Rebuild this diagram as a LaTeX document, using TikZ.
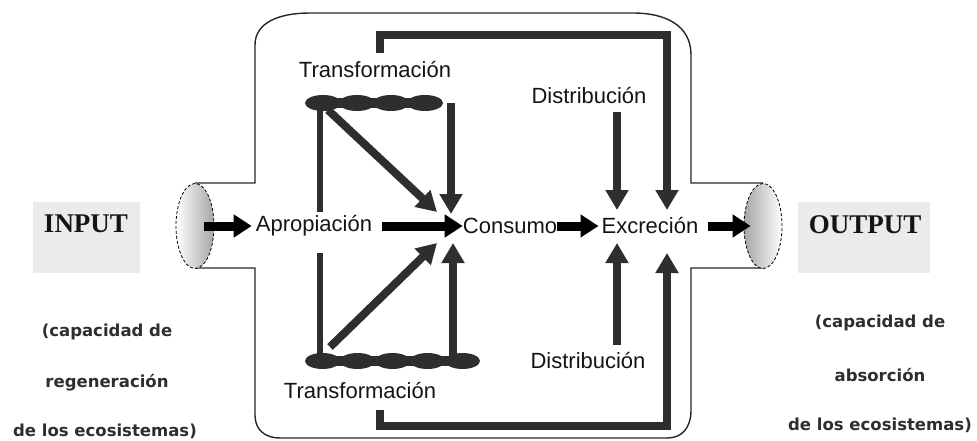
\documentclass[tikz,border=0pt]{standalone}
\usepackage{fontspec}
\setmainfont{Liberation Sans}
\newfontfamily\serifb{Liberation Serif}
\newfontfamily\smallf{DejaVu Sans}
\usetikzlibrary{arrows.meta,shapes.geometric}
\definecolor{dk}{HTML}{2E2E2E}
\definecolor{boxgray}{HTML}{EBEBEB}
\tikzset{
  lbl/.style={inner sep=1pt, text=black!92, font=\fontsize{22}{24}\selectfont},
  iolbl/.style={inner sep=0pt, text=black!92, font=\serifb\bfseries\fontsize{27}{29}\selectfont},
  small/.style={inner sep=0pt, text=black!82, font=\smallf\bfseries\fontsize{16.5}{18}\selectfont},
  iobox/.style={fill=boxgray, draw=none, inner sep=0pt},
  pipeend/.style={ellipse, draw=black, densely dashed, line width=0.8pt, minimum width=38pt, minimum height=85pt, inner sep=0pt},
  outer/.style={line width=1.4pt, draw=black!85},
  harr/.style={line width=9pt, black, -{Triangle[length=18pt,width=22pt]}},
  varr/.style={line width=8pt, dk, -{Triangle[length=20pt,width=22pt]}},
  darr/.style={line width=8pt, dk, -{Triangle[length=20pt,width=22pt]}},
  thk/.style={line width=6pt, dk},
  brk/.style={line width=8pt, dk, -{Triangle[length=20pt,width=22pt]}},
}
\begin{document}
\begin{tikzpicture}[x=1pt,y=-1pt]
\useasboundingbox (0,0) rectangle (977,441);
% outer frame with pipes
\draw[outer] (195,183) -- (255,183) -- (255,45) .. controls (255,22) and (280,13) .. (310,13) -- (633,13) .. controls (665,13) and (691,25) .. (691,55) -- (691,183) -- (763,183);
\draw[outer] (763,268) -- (691,268) -- (691,410) .. controls (691,428) and (682,438) .. (667,438) -- (280,438) .. controls (265,438) and (255,430) .. (255,415) -- (255,268) -- (195,268);
% pipe ends
\node[pipeend, left color=white, right color=gray!70] (inE) at (195,226) {};
\node[pipeend, left color=gray!70, right color=white] (outE) at (763,226) {};
% input / output boxes
\node[iobox, minimum width=107pt, minimum height=71pt] (inBox) at (86.5,237.5) {};
\node[iolbl] (inp) at (86,224) {INPUT};
\node[iobox, minimum width=132pt, minimum height=71pt] (outBox) at (864,237.5) {};
\node[iolbl] (outp) at (865,225) {OUTPUT};
% side notes
\node[small] (l1) at (107,332) {(capacidad de};
\node[small] (l2) at (107,383) {regeneración};
\node[small] (l3) at (105,431) {de los ecosistemas)};
\node[small] (r1) at (880,323) {(capacidad de};
\node[small] (r2) at (880,375) {absorción};
\node[small] (r3) at (880,425) {de los ecosistemas)};
% labels
\node[lbl] (apro) at (314,226) {Apropiación};
\node[lbl] (cons) at (510,226) {Consumo};
\node[lbl] (excr) at (650,226) {Excreción};
\node[lbl] (trT) at (375,70) {Transformación};
\node[lbl] (trB) at (360,391) {Transformación};
\node[lbl] (diT) at (589,96) {Distribución};
\node[lbl] (diB) at (588,361) {Distribución};
% transformation bars
\fill[dk] (315,98) rectangle (433,108);
\foreach \cx in {323,357,391,425} \fill[dk] (\cx,103) ellipse [x radius=18pt, y radius=8pt];
\fill[dk] (315,356) rectangle (470,366);
\foreach \cx in {322.5,357.5,392.5,427.5,462.5} \fill[dk] (\cx,361) ellipse [x radius=17.5pt, y radius=8pt];
% coordinates
\coordinate (tbL) at (320,103);
\coordinate (tbD) at (328,110);
\coordinate (tbR) at (451,103);
\coordinate (bbL) at (320,361);
\coordinate (bbD) at (330,347);
\coordinate (bbR) at (453,361);
\coordinate (tvEnd) at (320,212);
\coordinate (bvEnd) at (320,253);
\coordinate (consTD) at (437,212);
\coordinate (consTV) at (451,214);
\coordinate (consBD) at (437,243);
\coordinate (consBV) at (453,243);
\coordinate (tbrS) at (380,53);
\coordinate (tbrA) at (380,35);
\coordinate (tbrB) at (667,35);
\coordinate (excTR) at (667,210);
\coordinate (diTS) at (617,112);
\coordinate (excTD) at (617,210);
\coordinate (bbrS) at (380,410);
\coordinate (bbrA) at (380,426);
\coordinate (bbrB) at (667,426);
\coordinate (excBR) at (667,253);
\coordinate (diBS) at (617,345);
\coordinate (excBD) at (617,243);
% top transformation connectors
\draw[thk] (tbL) -- (tvEnd);
\draw[darr] (tbD) -- (consTD);
\draw[varr] (tbR) -- (consTV);
% bottom transformation connectors
\draw[thk] (bbL) -- (bvEnd);
\draw[darr] (bbD) -- (consBD);
\draw[varr] (bbR) -- (consBV);
% brackets to excretion
\draw[brk] (tbrS) -- (tbrA) -- (tbrB) -- (excTR);
\draw[varr] (diTS) -- (excTD);
\draw[brk] (bbrS) -- (bbrA) -- (bbrB) -- (excBR);
\draw[varr] (diBS) -- (excBD);
% main flow
\draw[harr] ([xshift=-10pt]inE.east) -- ([xshift=-3pt]apro.west);
\draw[harr] ([xshift=9pt]apro.east) -- ([xshift=1pt]cons.west);
\draw[harr] ([xshift=-1pt]cons.east) -- ([xshift=-2pt]excr.west);
\draw[harr] ([xshift=8pt]excr.east) -- ([xshift=7pt]outE.west);
\end{tikzpicture}
\end{document}
